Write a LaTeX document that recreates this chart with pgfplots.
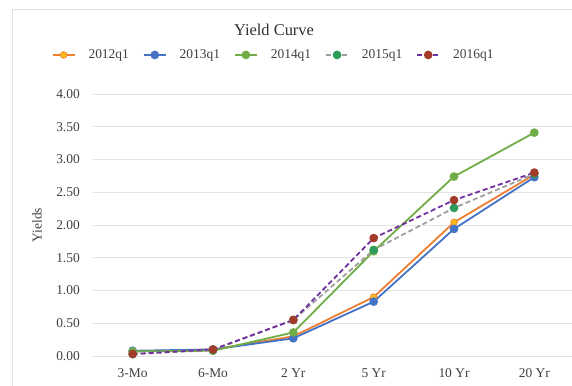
\documentclass[border=0pt]{standalone}
\usepackage{fontspec}
\setmainfont{Liberation Serif}
\usepackage{pgfplots}
\usepackage{pgfplotstable}
\pgfplotsset{compat=1.18}
\definecolor{cOrange}{HTML}{ED7D31}
\definecolor{cGold}{HTML}{FFB81C}
\definecolor{cBlue}{HTML}{4472C4}
\definecolor{cGreen}{HTML}{70AD47}
\definecolor{cGray}{HTML}{9E9E9E}
\definecolor{cDGreen}{HTML}{2E9B58}
\definecolor{cPurple}{HTML}{7030A0}
\definecolor{cBrown}{HTML}{A23B2A}
\definecolor{cGrid}{HTML}{E3E3E3}
\definecolor{cText}{HTML}{404040}
\definecolor{cTitle}{HTML}{303030}
\pgfplotstableread{
x y2012 y2013 y2014 y2015 y2016
0 0.07 0.08 0.07 0.03 0.03
1 0.10 0.10 0.08 0.09 0.10
2 0.30 0.27 0.36 0.55 0.55
3 0.90 0.83 1.60 1.62 1.80
4 2.04 1.94 2.74 2.26 2.38
5 2.77 2.73 3.41 2.78 2.80
}\yields
\begin{document}
\begin{tikzpicture}[x=1bp,y=1bp]
\useasboundingbox (0,0) rectangle (572,385);
\draw[cGrid, line width=1bp] (12,-20) -- (12,375) -- (620,375);
\begin{axis}[
  at={(92.5bp,29bp)}, anchor=south west,
  scale only axis, width=482bp, height=262bp,
  xmin=-0.5, xmax=5.5, ymin=0, ymax=4,
  xtick={0,1,2,3,4,5},
  xticklabels={3-Mo,6-Mo,2 Yr,5 Yr,10 Yr,20 Yr},
  ytick={0,0.5,1,1.5,2,2.5,3,3.5,4},
  yticklabel style={/pgf/number format/.cd,fixed,fixed zerofill,precision=2,/tikz/.cd},
  /pgf/number format/assume math mode=true,
  axis line style={draw=none},
  major tick length=0pt,
  ymajorgrids, grid style={cGrid, line width=0.8bp},
  tick label style={font=\fontsize{13.5}{16}\selectfont, text=cText, inner sep=0pt},
  xticklabel style={anchor=base, yshift=-21bp},
  yticklabel style={anchor=east, xshift=-12.5bp},
  title={Yield Curve},
  title style={at={(axis description cs:0.3766,1.221)}, anchor=center, font=\fontsize{16.5}{19}\selectfont, text=cTitle},
  ylabel={Yields},
  every axis y label/.style={at={(axis description cs:-0.115,0.5)}, rotate=90, anchor=center, font=\fontsize{13.5}{16}\selectfont, text=cText},
  legend columns=5,
  legend style={at={(axis description cs:-0.085,1.149)}, anchor=west, draw=none, fill=none, inner sep=0pt,
    font=\fontsize{13.5}{16}\selectfont, text=cText,
    nodes={inner sep=0pt, anchor=west},
    /tikz/every odd column/.append style={column sep=13bp},
    /tikz/every even column/.append style={column sep=14bp}},
  legend image code/.code={\draw[mark repeat=2,mark phase=2,#1] plot coordinates {(0bp,0bp)(11bp,0bp)(22bp,0bp)};},
  every axis plot/.append style={line width=1.8bp, mark=*, mark size=3.4bp},
]
\addplot[cOrange, mark options={draw=cOrange, fill=cGold, line width=0.6bp}] table[x=x,y=y2012]{\yields};
\addlegendentry{2012q1}
\addplot[cBlue, mark options={draw=cBlue, fill=cBlue}] table[x=x,y=y2013]{\yields};
\addlegendentry{2013q1}
\addplot[cGreen, mark options={draw=cGreen, fill=cGreen}] table[x=x,y=y2014]{\yields};
\addlegendentry{2014q1}
\addplot[cGray, dash pattern=on 5bp off 3bp, mark options={solid, draw=cDGreen, fill=cDGreen}] table[x=x,y=y2015]{\yields};
\addlegendentry{2015q1}
\addplot[cPurple, dash pattern=on 5bp off 3bp, mark options={solid, draw=cBrown, fill=cBrown}] table[x=x,y=y2016]{\yields};
\addlegendentry{2016q1}
\end{axis}
\end{tikzpicture}
\end{document}
